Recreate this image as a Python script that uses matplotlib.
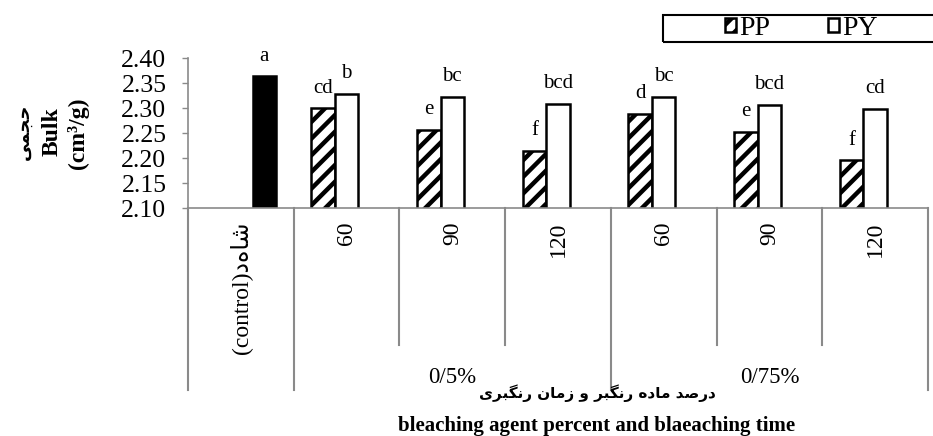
import numpy as np
import matplotlib.pyplot as plt
from matplotlib.patches import Rectangle

plt.rcParams['font.family'] = ['Liberation Serif', 'DejaVu Sans']
plt.rcParams['hatch.linewidth'] = 3.2

# bulk volume (cm3/g) by bleaching agent percent and bleaching time
categories = ['(control)\uFEA9\uFEE9\uFE8E\uFEB7', '60', '90', '120', '60', '90', '120']
groups = ['0/5%', '0/75%']
control = [2.364, np.nan, np.nan, np.nan, np.nan, np.nan, np.nan]
pp = [np.nan, 2.300, 2.257, 2.215, 2.289, 2.253, 2.196]
py = [np.nan, 2.329, 2.323, 2.309, 2.323, 2.307, 2.299]
control_letters = ['a', '', '', '', '', '', '']
pp_letters = ['', 'cd', 'e', 'f', 'd', 'e', 'f']
py_letters = ['', 'b', 'bc', 'bcd', 'bc', 'bcd', 'cd']

# persian labels written in display order (presentation forms)
ylabel_fa = '\uFBFD\uFEE4\uFEA0\uFEA3'
xlabel_fa = ('\uFBFC\uFEAE\uFE92\uFB95\uFEE7\uFEAD \uFEE5\uFE8E\uFEE3\uFEAF \uFEED '
             '\uFEAE\uFE92\uFB95\uFEE7\uFEAD \uFEE9\uFEA9\uFE8E\uFEE3 \uFEAA\uFEBB\uFEAD\uFEA9')
xlabel_en = 'bleaching agent percent and blaeaching time'

W, H = 933, 436
gray = '#8a8a8a'

fig = plt.figure(figsize=(W / 100, H / 100), dpi=100)
ax = fig.add_axes([188 / W, 1 - 208 / H, 740 / W, 150 / H])

x = np.arange(len(categories))
w = 1 / 4.5
b_pp = ax.bar(x - w, pp, w, facecolor='white', edgecolor='black', hatch='//', lw=1.8, label='PP')
b_py = ax.bar(x, py, w, facecolor='white', edgecolor='black', lw=1.8, label='PY')
ax.bar(x + w, control, w, color='black', edgecolor='black', lw=1.8)

for i in x:
    for off, vals, lets in [(-w, pp, pp_letters), (0, py, py_letters), (w, control, control_letters)]:
        if lets[i]:
            ax.annotate(lets[i], (i + off, vals[i]), xytext=(0, 11), textcoords='offset points',
                        ha='center', va='baseline', fontsize=15)

ax.set_xlim(-0.5, len(categories) - 0.5)
ax.set_ylim(2.10, 2.40)
ax.set_yticks(np.arange(2.10, 2.401, 0.05))
ax.yaxis.set_major_formatter('{x:.2f}')
for s in ['top', 'right']:
    ax.spines[s].set_visible(False)
for s in ['left', 'bottom']:
    ax.spines[s].set_color(gray)
    ax.spines[s].set_linewidth(1.2)
ax.tick_params(axis='y', direction='out', length=4.5, color=gray, width=1, labelsize=18.5, pad=11)
ax.set_xticks(x, categories, rotation=90)
ax.tick_params(axis='x', length=0, pad=10, labelsize=17)

# category separators, longer ones between treatment groups
trans = ax.get_xaxis_transform()
for b in [-0.5, 0.5, 3.5, 6.5]:
    ax.plot([b, b], [0, -182 / 150], transform=trans, color=gray, lw=1.5, clip_on=False)
for b in [1.5, 2.5, 4.5, 5.5]:
    ax.plot([b, b], [0, -137 / 150], transform=trans, color=gray, lw=1.5, clip_on=False)
for gx, g in zip([2, 5], groups):
    ax.text(gx, -169 / 150, g, transform=trans, ha='center', va='center', fontsize=16.5)

fig.text(597 / W, 1 - 393 / H, xlabel_fa, ha='center', va='center', fontsize=11,
         fontweight='bold', family='DejaVu Sans')
fig.text(597 / W, 1 - 431 / H, xlabel_en, ha='center', va='baseline', fontsize=15, fontweight='bold')

fig.text(24 / W, 1 - 132 / H, ylabel_fa, rotation=90, ha='center', va='center', fontsize=13,
         fontweight='bold', family='DejaVu Sans')
fig.text(52 / W, 1 - 132 / H, 'Bulk', rotation=90, ha='center', va='center', fontsize=17, fontweight='bold')
fig.text(78 / W, 1 - 133 / H, '(cm³/g)', rotation=90, ha='center', va='center', fontsize=17, fontweight='bold')

fig.add_artist(Rectangle((663 / W, 1 - 42 / H), 290 / W, 27 / H, transform=fig.transFigure,
                         fill=False, edgecolor='black', lw=1.5, clip_on=False))
fig.legend(handles=[b_pp, b_py], labels=['PP', 'PY'], loc='center left',
           bbox_to_anchor=(725 / W, 1 - 28.5 / H), ncol=2, frameon=False, fontsize=20,
           handlelength=0.4, handleheight=0.4, handletextpad=0.1, columnspacing=2.1,
           borderpad=0, borderaxespad=0)

fig.savefig('out.png', dpi=100)
